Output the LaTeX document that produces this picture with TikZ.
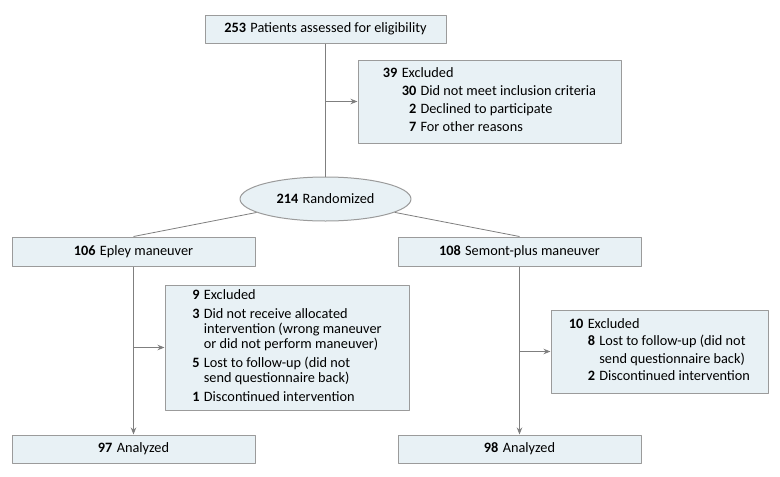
\documentclass[tikz,border=0pt]{standalone}
\usepackage{fontspec}
\setmainfont{Carlito}
\usetikzlibrary{shapes.geometric,arrows.meta}
\definecolor{boxfill}{HTML}{E8F1F5}
\definecolor{boxline}{HTML}{9B9B9B}
\definecolor{linkgray}{HTML}{7F7F7F}
\newcommand{\cnt}[1]{\textbf{#1}\hspace{0.3em}}
\tikzset{
	flowbox/.style={draw=boxline, fill=boxfill, line width=1pt, inner sep=0pt, align=center},
	randbox/.style={flowbox, ellipse, minimum width=171pt, minimum height=44pt},
	link/.style={draw=linkgray, line width=0.8pt}
}
\begin{document}
\begin{tikzpicture}[x=1pt, y=-1pt, font=\fontsize{14.3}{14.5}\selectfont, line join=round, >={Stealth[length=7pt,width=5.5pt]}]
		\useasboundingbox (0,0) rectangle (780,477);
		% enrollment
		\node[flowbox, minimum width=241pt, minimum height=28pt] (assess) at (325.5,29) {\cnt{253}Patients assessed for eligibility};
		\node[flowbox, minimum width=263pt, minimum height=83pt] (excl) at (489.5,101.5) {%
			\begin{tabular}{@{}r@{\hspace{0.3em}}r@{\hspace{0.3em}}l@{}}
				\textbf{39} & \multicolumn{2}{@{}l@{}}{Excluded}\\[3.5pt]
				& \textbf{30} & Did not meet inclusion criteria\\[3.5pt]
				& \textbf{2} & Declined to participate\\[3.5pt]
				& \textbf{7} & For other reasons
			\end{tabular}};
		\node[randbox] (rand) at (325.5,199) {\cnt{214}Randomized};
		% allocation
		\node[flowbox, minimum width=243pt, minimum height=29pt] (epley) at (133.5,251.5) {\cnt{106}Epley maneuver};
		\node[flowbox, minimum width=243pt, minimum height=29pt] (semont) at (519.5,251.5) {\cnt{108}Semont-plus maneuver};
		\node[flowbox, minimum width=244pt, minimum height=125pt] (exEpley) at (287,347.5) {%
			\begin{tabular}{@{}r@{\hspace{0.3em}}l@{}}
				\textbf{9} & Excluded\\[4.5pt]
				\textbf{3} & Did not receive allocated\\
				& intervention (wrong maneuver\\
				& or did not perform maneuver)\\[4.5pt]
				\textbf{5} & Lost to follow-up (did not\\
				& send questionnaire back)\\[4.5pt]
				\textbf{1} & Discontinued intervention
			\end{tabular}};
		\node[flowbox, minimum width=217pt, minimum height=83pt] (exSemont) at (659.5,351.5) {%
			\begin{tabular}{@{}r@{\hspace{0.3em}}r@{\hspace{0.3em}}l@{}}
				\textbf{10} & \multicolumn{2}{@{}l@{}}{Excluded}\\[2.8pt]
				& \textbf{8} & Lost to follow-up (did not\\[2.8pt]
				& & send questionnaire back)\\[2.8pt]
				& \textbf{2} & Discontinued intervention
			\end{tabular}};
		% analysis
		\node[flowbox, minimum width=243pt, minimum height=28pt] (anEpley) at (133.5,449) {\cnt{97}Analyzed};
		\node[flowbox, minimum width=243pt, minimum height=28pt] (anSemont) at (519.5,449) {\cnt{98}Analyzed};
		% connectors
		\coordinate (brTop) at (assess.south |- excl.west);
		\coordinate (brEpley) at (epley.south |- exEpley.west);
		\coordinate (brSemont) at (semont.south |- exSemont.west);
		\draw[link] (assess) -- (rand);
		\draw[link,->] (brTop) -- (excl.west);
		\draw[link] (rand) -- (epley.north);
		\draw[link] (rand) -- (semont.north);
		\draw[link,->] (epley) -- (anEpley);
		\draw[link,->] (semont) -- (anSemont);
		\draw[link,->] (brEpley) -- (exEpley.west);
		\draw[link,->] (brSemont) -- (exSemont.west);
\end{tikzpicture}
\end{document}
